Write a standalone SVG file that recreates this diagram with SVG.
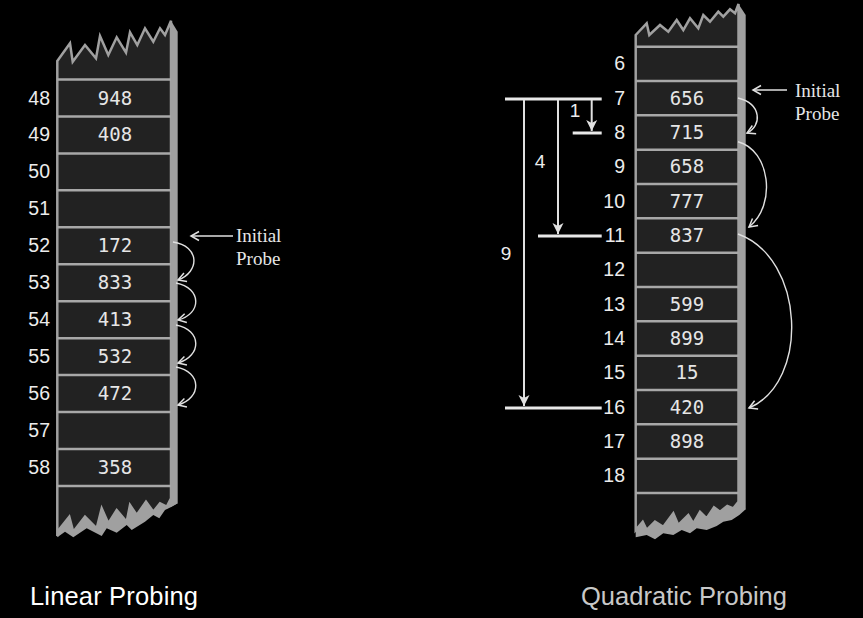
<svg xmlns="http://www.w3.org/2000/svg" width="863" height="618" viewBox="0 0 863 618">
<style>
.bg{fill:#000}
.body{fill:#222;stroke:#a0a0a0;stroke-width:2.5;stroke-linejoin:miter}
.bar{fill:#a0a0a0}
.sep{stroke:#a8a8a8;stroke-width:2.5}
.val{font-family:"DejaVu Sans Mono",monospace;font-size:19px;fill:#e6e6e6;text-anchor:middle}
.idx{font-family:"Liberation Sans",Arial,sans-serif;font-size:19.5px;fill:#ececec;text-anchor:end}
.num{font-family:"Liberation Sans",Arial,sans-serif;font-size:19px;fill:#ececec;text-anchor:middle}
.note{font-family:"Liberation Serif","Times New Roman",serif;font-size:19px;fill:#e6e6e6}
.title{font-family:"Liberation Sans",Arial,sans-serif;font-size:25.5px}
.curve{fill:none;stroke:#e0e0e0;stroke-width:1.4;marker-end:url(#v)}
.hl{stroke:#e8e8e8;stroke-width:3}
.vl{stroke:#e0e0e0;stroke-width:2;marker-end:url(#tri)}
</style>
<defs>
<marker id="v" markerUnits="userSpaceOnUse" markerWidth="12" markerHeight="12" viewBox="-9 -6 11 12" refX="0" refY="0" orient="auto">
<path d="M-8,-4.5 L0,0 L-8,4.5" fill="none" stroke="#e0e0e0" stroke-width="1.5"/>
</marker>
<marker id="tri" markerUnits="userSpaceOnUse" markerWidth="14" markerHeight="14" viewBox="-12 -7 13 14" refX="0" refY="0" orient="auto">
<path d="M-11,-5.5 L0,0 L-11,5.5 L-8,0 Z" fill="#e0e0e0"/>
</marker>
</defs>
<rect class="bg" x="0" y="0" width="863" height="618"/>

<g id="linear-table">
<polygon class="body" points="57.3,61 70,43.3 72.7,61.7 85,45 96,58.3 100,36 108.3,55 116.7,37.3 126,52.7 130,32.3 137.3,45 145,28.3 153.3,41.7 160,28.3 165,35 171,20.7 171,498.3 166.7,506.7 160,503.3 153.3,511.7 146,501.7 136.7,515 130,505 126.7,521.7 116.7,510 108.3,523.3 101.7,508.3 96.7,528.3 85,516.7 73.3,531.7 69.3,516.7 60,528.3 57.3,536"/>
<polygon class="bar" points="171,20.7 177.7,31.7 177.7,503.3 171,506.7"/>
<polygon class="bar" points="170.7,498.3 177.7,503.3 171.7,506.7 165,510 159.3,518.3 153.3,515 145,521.7 131.7,530 126.7,525 116.7,532.7 106.7,528.3 101.7,536 86.7,528.3 73.3,537.3 65,531.7 57.3,537.3 57.3,534 60,528.3 69.3,516.7 73.3,531.7 85,516.7 96.7,528.3 101.7,508.3 108.3,523.3 116.7,510 126.7,521.7 130,505 136.7,515 146,501.7 153.3,511.7 160,503.3 166.7,506.7"/>
<line class="sep" x1="57.3" y1="485.95" x2="171" y2="485.95"/>
</g>
<g id="cell-48"><line class="sep" x1="57.3" y1="79.5" x2="171" y2="79.5"/><text class="idx" x="50" y="104.5">48</text><text class="val" x="115" y="104.5">948</text></g>
<g id="cell-49"><line class="sep" x1="57.3" y1="116.45" x2="171" y2="116.45"/><text class="idx" x="50" y="141.4">49</text><text class="val" x="115" y="141.4">408</text></g>
<g id="cell-50"><line class="sep" x1="57.3" y1="153.4" x2="171" y2="153.4"/><text class="idx" x="50" y="178.4">50</text></g>
<g id="cell-51"><line class="sep" x1="57.3" y1="190.35" x2="171" y2="190.35"/><text class="idx" x="50" y="215.3">51</text></g>
<g id="cell-52"><line class="sep" x1="57.3" y1="227.3" x2="171" y2="227.3"/><text class="idx" x="50" y="252.3">52</text><text class="val" x="115" y="252.3">172</text></g>
<g id="cell-53"><line class="sep" x1="57.3" y1="264.25" x2="171" y2="264.25"/><text class="idx" x="50" y="289.2">53</text><text class="val" x="115" y="289.2">833</text></g>
<g id="cell-54"><line class="sep" x1="57.3" y1="301.2" x2="171" y2="301.2"/><text class="idx" x="50" y="326.2">54</text><text class="val" x="115" y="326.2">413</text></g>
<g id="cell-55"><line class="sep" x1="57.3" y1="338.15" x2="171" y2="338.15"/><text class="idx" x="50" y="363.1">55</text><text class="val" x="115" y="363.1">532</text></g>
<g id="cell-56"><line class="sep" x1="57.3" y1="375.1" x2="171" y2="375.1"/><text class="idx" x="50" y="400.1">56</text><text class="val" x="115" y="400.1">472</text></g>
<g id="cell-57"><line class="sep" x1="57.3" y1="412.05" x2="171" y2="412.05"/><text class="idx" x="50" y="437">57</text></g>
<g id="cell-58"><line class="sep" x1="57.3" y1="449" x2="171" y2="449"/><text class="idx" x="50" y="474">58</text><text class="val" x="115" y="474">358</text></g>
<g id="linear-initial-probe"><text class="note" x="236" y="242">Initial</text><text class="note" x="236" y="265">Probe</text></g>

<g id="quadratic-table">
<polygon class="body" points="635.7,35 646.7,23.3 649.3,35 660,25 668.3,31.7 676.7,20 683.3,30 690,18.3 698.3,28.3 703.3,15 710,21.7 718.3,11.7 723.3,16.7 730,9.3 735,13.3 738.5,4 738.5,501.7 733.3,508.3 727.3,506 720,511.7 714,507.3 706.7,518.3 700,511.7 693.3,523.3 688.3,515 678.3,525 673.3,513.3 663.3,526.7 655,521.7 646.7,530 642.7,521.7 635.7,530"/>
<polygon class="bar" points="738.5,4 745.7,15 745.7,509.3 738.5,512"/>
<polygon class="bar" points="738.3,501.7 745.7,509.3 739.3,515 731.7,520 723.3,521.7 716.7,526 706.7,530 696.7,528.3 690,533.3 681.7,530 673.3,535 663.3,533.3 655,539.3 646.7,535 635.7,537.3 635.7,530 642.7,521.7 646.7,530 655,521.7 663.3,526.7 673.3,513.3 678.3,525 688.3,515 693.3,523.3 700,511.7 706.7,518.3 714,507.3 720,511.7 727.3,506 733.3,508.3"/>
<line class="sep" x1="635.7" y1="493" x2="738.5" y2="493"/>
</g>
<g id="cell-6"><line class="sep" x1="635.7" y1="46.7" x2="738.5" y2="46.7"/><text class="idx" x="625" y="70">6</text></g>
<g id="cell-7"><line class="sep" x1="635.7" y1="81.03" x2="738.5" y2="81.03"/><text class="idx" x="625" y="104.5">7</text><text class="val" x="687" y="104.5">656</text></g>
<g id="cell-8"><line class="sep" x1="635.7" y1="115.36" x2="738.5" y2="115.36"/><text class="idx" x="625" y="138.8">8</text><text class="val" x="687" y="138.8">715</text></g>
<g id="cell-9"><line class="sep" x1="635.7" y1="149.7" x2="738.5" y2="149.7"/><text class="idx" x="625" y="173.2">9</text><text class="val" x="687" y="173.2">658</text></g>
<g id="cell-10"><line class="sep" x1="635.7" y1="184" x2="738.5" y2="184"/><text class="idx" x="625" y="207.5">10</text><text class="val" x="687" y="207.5">777</text></g>
<g id="cell-11"><line class="sep" x1="635.7" y1="218.35" x2="738.5" y2="218.35"/><text class="idx" x="625" y="241.8">11</text><text class="val" x="687" y="241.8">837</text></g>
<g id="cell-12"><line class="sep" x1="635.7" y1="252.7" x2="738.5" y2="252.7"/><text class="idx" x="625" y="276.2">12</text></g>
<g id="cell-13"><line class="sep" x1="635.7" y1="287" x2="738.5" y2="287"/><text class="idx" x="625" y="310.5">13</text><text class="val" x="687" y="310.5">599</text></g>
<g id="cell-14"><line class="sep" x1="635.7" y1="321.3" x2="738.5" y2="321.3"/><text class="idx" x="625" y="344.8">14</text><text class="val" x="687" y="344.8">899</text></g>
<g id="cell-15"><line class="sep" x1="635.7" y1="355.7" x2="738.5" y2="355.7"/><text class="idx" x="625" y="379.2">15</text><text class="val" x="687" y="379.2">15</text></g>
<g id="cell-16"><line class="sep" x1="635.7" y1="390" x2="738.5" y2="390"/><text class="idx" x="625" y="413.5">16</text><text class="val" x="687" y="413.5">420</text></g>
<g id="cell-17"><line class="sep" x1="635.7" y1="424.3" x2="738.5" y2="424.3"/><text class="idx" x="625" y="447.8">17</text><text class="val" x="687" y="447.8">898</text></g>
<g id="cell-18"><line class="sep" x1="635.7" y1="458.7" x2="738.5" y2="458.7"/><text class="idx" x="625" y="482.1">18</text></g>
<g id="quadratic-initial-probe"><text class="note" x="795" y="96.5">Initial</text><text class="note" x="795" y="119.5">Probe</text></g>

<g id="offset-scale">
<line class="hl" x1="505" y1="99" x2="601.7" y2="99"/>
<line class="hl" x1="572.7" y1="133" x2="601.7" y2="133"/>
<line class="hl" x1="538" y1="236" x2="601.7" y2="236"/>
<line class="hl" x1="505" y1="408" x2="601.7" y2="408"/>
<text class="num" x="575" y="117">1</text>
<text class="num" x="540" y="168">4</text>
<text class="num" x="506" y="260">9</text>
</g>

<g id="connectors">
<line class="vl" x1="591.7" y1="100" x2="591.7" y2="131"/>
<line class="vl" x1="558" y1="100" x2="558" y2="234"/>
<line class="vl" x1="524" y1="100" x2="524" y2="406"/>
<line class="curve" x1="233" y1="236" x2="191" y2="236"/>
<path class="curve" d="M173,242 C200,246 200,272 178,280"/>
<path class="curve" d="M176,283 C202,288 202,314 178,320"/>
<path class="curve" d="M176,325 C202,330 202,356 178,363"/>
<path class="curve" d="M176,367 C202,372 202,398 178,405"/>
<line class="curve" x1="787" y1="90" x2="753" y2="90"/>
<path class="curve" d="M738,98 C762,104 762,126 747,133"/>
<path class="curve" d="M738,141.7 C770,150 777,205 749,227"/>
<path class="curve" d="M738,234 C805,258 810,382 749,408"/>
</g>

<text class="title" x="30" y="605" fill="#ffffff" textLength="168" lengthAdjust="spacing">Linear Probing</text>
<text class="title" x="581" y="605" fill="#c8c8c8" textLength="206" lengthAdjust="spacing">Quadratic Probing</text>
</svg>
